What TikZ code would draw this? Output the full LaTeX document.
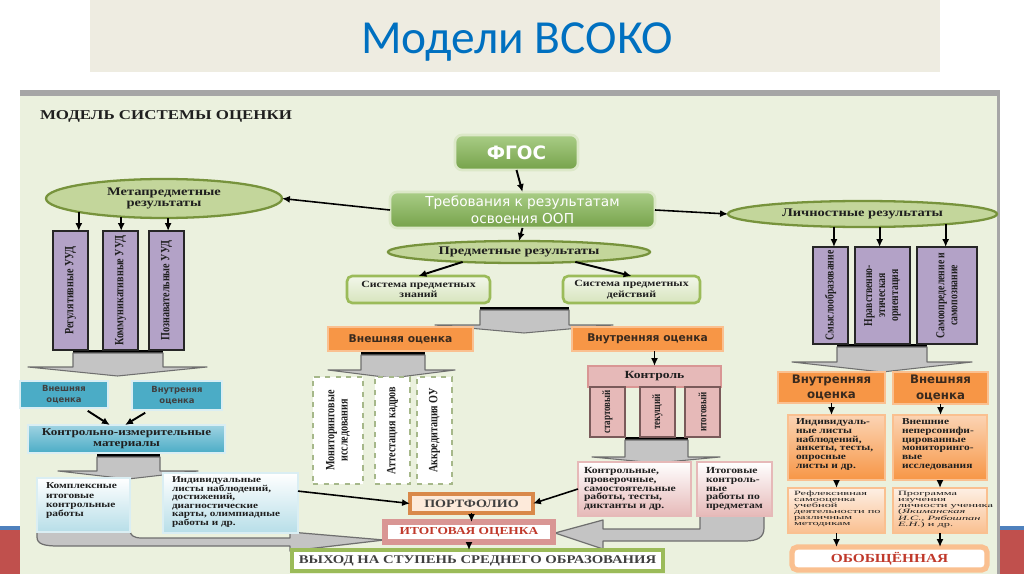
\documentclass[tikz,border=0pt]{standalone}
\usepackage{fontspec}
\setmainfont{Liberation Serif}
\newfontfamily\ser[FakeStretch=1.25]{Liberation Serif}
\newfontfamily\serw[FakeStretch=1.9]{Liberation Serif}
\newfontfamily\serc[FakeStretch=0.8]{Liberation Serif}
\newfontfamily\dvs{DejaVu Sans}
\newfontfamily\calf{Carlito}
\usetikzlibrary{arrows.meta,shapes.geometric}
\definecolor{titlebg}{HTML}{EEECE1}
\definecolor{titleblue}{HTML}{0070C0}
\definecolor{panelbg}{HTML}{EBF1DE}
\definecolor{panelgray}{HTML}{A6A6A6}
\definecolor{redband}{HTML}{C0504D}
\definecolor{blueband}{HTML}{4F81BD}
\definecolor{gtop}{HTML}{A9CD86}
\definecolor{gbot}{HTML}{76A24A}
\definecolor{gborder}{HTML}{DCE8C8}
\definecolor{elfill}{HTML}{C3D69B}
\definecolor{elborder}{HTML}{77933C}
\definecolor{systop}{HTML}{F2F7EA}
\definecolor{sysbot}{HTML}{D7E4BD}
\definecolor{sysborder}{HTML}{9BBB59}
\definecolor{orfill}{HTML}{F79646}
\definecolor{orborder}{HTML}{FAC090}
\definecolor{ortext}{HTML}{3A2A1E}
\definecolor{purfill}{HTML}{B3A2C7}
\definecolor{purborder}{HTML}{262626}
\definecolor{arrfill}{HTML}{C4C4C4}
\definecolor{arrline}{HTML}{6F6F6F}
\definecolor{tealfill}{HTML}{4BACC6}
\definecolor{tealtop}{HTML}{9FD3E2}
\definecolor{tealborder}{HTML}{DAEEF3}
\definecolor{lbbot}{HTML}{B7DEE8}
\definecolor{pinkfill}{HTML}{E6B9B8}
\definecolor{pinkborder}{HTML}{D99694}
\definecolor{colborder}{HTML}{7A5A5A}
\definecolor{portborder}{HTML}{D9894A}
\definecolor{portfill}{HTML}{FDEADA}
\definecolor{itogtext}{HTML}{C0392B}
\definecolor{ortop}{HTML}{FBD4B4}
\definecolor{pchtop}{HTML}{FDEFE4}
\definecolor{pchbot}{HTML}{FAC090}
\definecolor{dashc}{HTML}{A6B88A}
\definecolor{txt}{HTML}{1F1F1F}
\definecolor{grtext}{HTML}{404040}
\newcommand\fs[2]{\fontsize{#1}{#2}\selectfont}
\newcommand\rbox[7]{\node[#2, minimum width={(#5-#3)*0.02cm}, minimum height={(#6-#4)*0.02cm}] (#1) at ({(#3+#5)/2},{(#4+#6)/2}) {#7};}
\newcommand\blockarr[7]{%
  \fill[black] (#1,#3) rectangle (#2,#3+3);
  \draw[draw=arrline, fill=arrfill, line width=0.6pt, line join=round] (#1,#3+3) -- (#1,#4) -- (#5,#4) -- ({(#5+#6)/2},#7) -- (#6,#4) -- (#2,#4) -- (#2,#3+3) -- cycle;}
\tikzset{
  arr/.style={-{Latex[length=4.5pt,width=4pt]}, line width=1.1pt, draw=black},
  harr/.style={draw=arrline, fill=arrfill, line width=0.7pt, line join=round},
  grnbox/.style={draw=gborder, line width=1.5pt, rounded corners=4pt, top color=gtop, bottom color=gbot, text=white, align=center},
  ell/.style={ellipse, draw=elborder, line width=1.3pt, fill=elfill, align=center, font=\ser\bfseries\fs{6.6}{6.6}},
  sysbox/.style={draw=sysborder, line width=1.5pt, rounded corners=3pt, top color=systop, bottom color=sysbot, align=center, font=\ser\bfseries\fs{5.4}{6}},
  orbox/.style={draw=orborder, line width=1pt, fill=orfill, text=ortext, align=center},
  purbox/.style={draw=purborder, line width=0.8pt, fill=purfill},
  rtext/.style={rotate=90, align=center, font=\serc\bfseries\fs{7.2}{7.6}},
  dbox/.style={draw=dashc, dashed, line width=0.8pt, fill=white},
  pinkbox/.style={draw=pinkborder, line width=1pt, fill=pinkfill, align=center},
  colbox/.style={draw=colborder, line width=0.8pt, fill=pinkfill},
  pgrad/.style={draw=pinkfill, line width=1pt, top color=white, bottom color=pinkfill},
  bgrad/.style={draw=tealborder, line width=1pt, top color=white, bottom color=lbbot},
  tealbox/.style={draw=tealborder, line width=1pt, fill=tealfill, align=center, font=\dvs\bfseries\fs{4.8}{6}, text=black!75},
  ograd/.style={draw=orborder, line width=1pt, top color=ortop, bottom color=orfill},
  pch/.style={draw=orborder, line width=1pt, top color=pchtop, bottom color=pchbot},
  ltxt/.style={anchor=north west, align=left},
}
\begin{document}
\begin{tikzpicture}[x=0.02cm, y=-0.02cm, every node/.style={inner sep=0pt, outer sep=0pt, text=txt}]
\useasboundingbox (0,0) rectangle (1024,574);
\fill[white] (0,0) rectangle (1024,574);
\fill[blueband] (0,526) rectangle (1024,530);
\fill[redband] (0,530) rectangle (1024,574);
\fill[titlebg] (90,0) rectangle (940,72);
\node[anchor=base, font=\calf\fs{27}{30}, text=titleblue] (title) at (517,54) {Модели ВСОКО};
\fill[panelbg] (20,90) rectangle (1000,574);
\fill[panelgray] (20,90) rectangle (1000,96);
\fill[panelgray] (997,90) rectangle (1000,574);

\node[anchor=base west, font=\ser\bfseries\fs{7.7}{9}] (mtitle) at (40,120) {МОДЕЛЬ СИСТЕМЫ ОЦЕНКИ};

% block arrows (drawn under boxes)
\blockarr{480}{569}{307}{325}{435}{613}{333}
\blockarr{361}{425}{352}{370}{328}{455}{378}
\blockarr{625}{688}{437}{457}{592}{720}{463}
\blockarr{73}{163}{350}{367}{28}{207}{376}
\blockarr{97}{160}{454}{471}{58}{198}{479}
\blockarr{837}{927}{344}{362}{792}{972}{372}

% hollow curved arrows
\draw[harr] (37,530) -- (37,537) .. controls (37,544) and (44,546) .. (58,546) -- (290,546) -- (290,551) -- (384,540) -- (290,532) -- (290,538) -- (142,538) .. controls (133,538) and (130,535) .. (130,530) -- cycle;
\draw[harr] (764,514) -- (764,528) .. controls (764,537) and (758,541) .. (745,541) -- (603,541) -- (603,549) -- (555,533) -- (603,520) -- (603,529) -- (700,529) -- (700,514) -- cycle;

% centre column
\rbox{fgos}{grnbox, font=\dvs\bfseries\fs{10.5}{12}}{455}{135}{578}{170}{ФГОС}
\rbox{treb}{grnbox, font=\dvs\fs{7.8}{9.6}}{390}{192}{655}{228}{Требования к результатам\\освоения ООП}
\rbox{pred}{ell}{388}{241}{650}{263}{Предметные результаты}
\rbox{spz}{sysbox}{347}{276}{490}{303}{Система предметных\\знаний}
\rbox{spd}{sysbox}{563}{276}{700}{303}{Система предметных\\действий}
\rbox{vnesh}{orbox, font=\dvs\bfseries\fs{6.1}{7}}{328}{327}{473}{351}{Внешняя оценка}
\rbox{vnutr}{orbox, font=\dvs\bfseries\fs{6.1}{7}}{572}{327}{723}{351}{Внутренняя оценка}

\rbox{d1}{dbox}{313}{377}{363}{484}{}
\rbox{d2}{dbox}{375}{377}{410}{484}{}
\rbox{d3}{dbox}{417}{377}{452}{484}{}
\node[rtext] (d1t) at (d1) {Мониторинговые\\исследования};
\node[rtext] (d2t) at (d2) {Аттестация кадров};
\node[rtext] (d3t) at (d3) {Аккредитация ОУ};

\rbox{kontrol}{pinkbox, font=\ser\bfseries\fs{6.2}{7}}{588}{366}{721}{387}{Контроль}
\rbox{k1}{colbox}{590}{387}{625}{437}{}
\rbox{k2}{colbox}{640}{387}{675}{437}{}
\rbox{k3}{colbox}{685}{387}{720}{437}{}
\node[rtext, font=\serc\bfseries\fs{6.4}{7}] (k1t) at (k1) {стартовый};
\node[rtext, font=\serc\bfseries\fs{6.4}{7}] (k2t) at (k2) {текущий};
\node[rtext, font=\serc\bfseries\fs{6.4}{7}] (k3t) at (k3) {итоговый};

\rbox{kr}{pgrad}{578}{462}{691}{516}{}
\node[ltxt, font=\ser\bfseries\fs{5.3}{5.1}] (krt) at ([shift={(6,5)}]kr.north west) {Контрольные,\\проверочные,\\самостоятельные\\работы, тесты,\\диктанты и др.};
\rbox{it}{pgrad}{697}{462}{772}{516}{}
\node[ltxt, font=\ser\bfseries\fs{5.3}{5.1}] (itt) at ([shift={(9,5)}]it.north west) {Итоговые\\контроль-\\ные\\работы по\\предметам};

\rbox{port}{draw=portborder, line width=2pt, fill=portfill, font=\ser\bfseries\fs{6.4}{7}, text=grtext}{410}{494}{533}{513}{ПОРТФОЛИО}
\rbox{itog}{draw=pinkborder, line width=3pt, fill=white, font=\ser\bfseries\fs{6.1}{7}, text=itogtext}{385}{522}{553}{542}{ИТОГОВАЯ ОЦЕНКА}
\rbox{vyh}{draw=sysborder, line width=2.5pt, fill=white, font=\ser\bfseries\fs{6.7}{7}, text=grtext}{292}{550}{663}{571}{ВЫХОД НА СТУПЕНЬ СРЕДНЕГО ОБРАЗОВАНИЯ}

% left column
\rbox{meta}{ell}{46}{179}{282}{218}{Метапредметные\\результаты}
\rbox{p1}{purbox}{53}{231}{88}{350}{}
\rbox{p2}{purbox}{103}{231}{138}{350}{}
\rbox{p3}{purbox}{149}{231}{184}{350}{}
\node[rtext] (p1t) at (p1) {Регулятивные УУД};
\node[rtext] (p2t) at (p2) {Коммуникативные УУД};
\node[rtext] (p3t) at (p3) {Познавательные УУД};
\rbox{vesh1}{tealbox}{20}{381}{108}{408}{Внешняя\\оценка}
\rbox{vnut1}{tealbox}{132}{381}{222}{410}{Внутреняя\\оценка}
\rbox{kim}{draw=tealborder, line width=1pt, top color=tealtop, bottom color=tealfill, align=center, font=\ser\bfseries\fs{6}{6.4}}{28}{425}{225}{453}{Контрольно-измерительные\\материалы}
\rbox{kompl}{bgrad}{37}{478}{130}{532}{}
\node[ltxt, font=\ser\bfseries\fs{5.2}{5.3}] (komplt) at ([shift={(9,5)}]kompl.north west) {Комплексные\\итоговые\\контрольные\\работы};
\rbox{ind}{bgrad}{163}{473}{298}{533}{}
\node[ltxt, font=\ser\bfseries\fs{5.1}{4.8}] (indt) at ([shift={(9,4)}]ind.north west) {Индивидуальные\\листы наблюдений,\\достижений,\\диагностические\\карты, олимпиадные\\работы  и др.};

% right column
\rbox{lich}{ell}{728}{201}{997}{227}{Личностные результаты}
\rbox{r1}{purbox}{813}{247}{848}{344}{}
\rbox{r2}{purbox}{855}{247}{910}{344}{}
\rbox{r3}{purbox}{917}{247}{977}{344}{}
\node[rtext, font=\serc\bfseries\fs{6.9}{7.4}] (r1t) at (r1) {Смыслообразование};
\node[rtext, font=\serc\bfseries\fs{6.9}{7.4}] (r2t) at (r2) {Нравственно-\\этическая\\ориентация};
\node[rtext, font=\serc\bfseries\fs{6.9}{7.4}] (r3t) at (r3) {Самоопределение и\\самопознание};
\rbox{vo2}{orbox, font=\dvs\bfseries\fs{6.7}{9}}{778}{372}{885}{403}{Внутренняя\\оценка}
\rbox{ve2}{orbox, font=\dvs\bfseries\fs{6.7}{9}}{893}{372}{988}{404}{Внешняя\\оценка}
\rbox{io2}{ograd}{788}{415}{885}{480}{}
\node[ltxt, font=\ser\bfseries\fs{5.2}{4.9}] (io2t) at ([shift={(8,4)}]io2.north west) {Индивидуаль-\\ные листы\\наблюдений,\\анкеты,  тесты,\\опросные\\листы и др.};
\rbox{vn2}{ograd}{893}{415}{987}{480}{}
\node[ltxt, font=\ser\bfseries\fs{5.2}{4.9}] (vn2t) at ([shift={(9,4)}]vn2.north west) {Внешние\\неперсонифи-\\цированные\\мониторинго-\\вые\\исследования};
\rbox{rf2}{pch}{788}{488}{885}{533}{}
\node[ltxt, font=\serw\fs{3.7}{3.4}] (rf2t) at ([shift={(6,3)}]rf2.north west) {Рефлексивная\\самооценка\\учебной\\деятельности по\\различным\\методикам};
\rbox{pr2}{pch}{893}{488}{987}{533}{}
\node[ltxt, font=\serw\fs{3.7}{3.4}] (pr2t) at ([shift={(5,3)}]pr2.north west) {Программа\\изучения\\личности ученика\\(\textit{Якиманская}\\\textit{И.С., Рябошпан}\\\textit{Е.Н.}) и др.};
\rbox{obob}{draw=orborder, line width=3pt, fill=white, rounded corners=3pt, font=\ser\bfseries\fs{7}{8}, text=itogtext}{792}{547}{987}{570}{ОБОБЩЁННАЯ}

% connectors
\draw[arr] (fgos.south) -- (treb.north);
\draw[arr] (treb.south) -- (pred.north);
\draw[arr, line width=0.9pt] (treb.west) -- (meta.east);
\draw[arr, line width=0.9pt] (treb.east) -- (lich.west);
\draw[arr] (pred.190) -- (spz.north);
\draw[arr] (pred.350) -- (spd.north);
\draw[arr] (kontrol.north |- vnutr.south) -- (kontrol.north);
\draw[arr, line width=0.9pt] (kr.west) -- (port.east);
\draw[arr, line width=0.9pt] (ind.10) -- (port.west);
\draw[arr] (port.south) -- (port.south |- itog.north);
\draw[arr] (itog.south) -- (itog.south |- vyh.north);
\draw[arr] (meta.189) -- (meta.189 |- p1.north);
\draw[arr] (meta.203) -- (meta.203 |- p2.north);
\draw[arr] (meta.282) -- (meta.282 |- p3.north);
\draw[arr, shorten <=3pt] (vesh1.325) -- (kim.140);
\draw[arr, shorten <=3pt] (vnut1.208) -- (kim.96);
\draw[arr] (lich.204) -- (lich.204 |- r1.north);
\draw[arr] (lich.323) -- (lich.323 |- r2.north);
\draw[arr] (lich.353) -- (lich.353 |- r3.north);
\draw[arr] (vo2.south) -- (vo2.south |- io2.north);
\draw[arr] (ve2.south) -- (ve2.south |- vn2.north);
\draw[arr] (io2.south) -- (io2.south |- rf2.north);
\draw[arr] (vn2.south) -- (vn2.south |- pr2.north);
\draw[arr] (rf2.south) -- (rf2.south |- obob.north);
\draw[arr] (pr2.south) -- (pr2.south |- obob.north);
\end{tikzpicture}
\end{document}
